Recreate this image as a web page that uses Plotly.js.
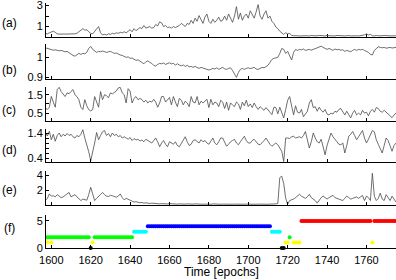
<!DOCTYPE html>
<html><head><meta charset="utf-8">
<script src="https://cdn.plot.ly/plotly-3.0.1.min.js"></script>
<style>html,body{margin:0;padding:0;background:#fff}#c{width:396px;height:280px}</style>
</head><body><div id="c"></div>
<script>
// epochs: series start at 1597, one value per epoch
var startEpoch = 1597;
var xTicks = [1600,1620,1640,1660,1680,1700,1720,1740,1760];

var seriesA = [
0.35,0.30,0.40,0.50,0.55,0.45,0.30,0.28,0.27,0.28,
0.28,0.27,0.28,0.30,0.28,0.30,0.35,0.50,0.60,0.80,
0.65,0.70,0.50,0.35,0.30,0.50,0.75,1.00,0.40,0.20,
0.25,0.20,0.30,0.25,0.35,0.30,0.40,0.35,0.45,0.40,
0.50,0.40,0.55,0.70,0.50,0.80,0.60,0.75,0.90,0.80,
1.10,0.85,0.95,1.00,0.85,0.90,1.20,1.05,1.45,1.35,
1.00,1.10,0.90,0.95,0.85,1.00,0.90,1.00,1.10,1.30,
1.10,1.00,1.30,1.20,1.60,1.30,1.80,1.50,2.05,1.60,
1.30,1.90,2.20,1.50,1.30,1.70,1.40,1.60,1.90,1.50,
1.60,2.00,1.60,2.20,1.70,1.40,2.00,2.90,1.70,2.30,
1.60,2.00,2.20,1.80,2.50,2.10,1.80,2.40,3.10,2.00,
1.70,2.20,2.50,1.80,2.00,1.50,1.30,0.95,0.80,0.55,
0.35,0.25,0.40,0.30,0.35,0.15,0.12,0.15,0.12,0.10,
0.12,0.15,0.10,0.12,0.10,0.15,0.12,0.10,0.12,0.15,
0.10,0.12,0.10,0.15,0.12,0.10,0.12,0.10,0.15,0.12,
0.10,0.12,0.10,0.12,0.15,0.10,0.12,0.10,0.12,0.10,
0.12,0.15,0.20,0.30,0.20,0.25,0.12,0.10,0.15,0.12,
0.10,0.12,0.15,0.10,0.12,0.10,0.12,0.15,0.12];

var seriesB = [
1.048,1.045,1.042,1.040,1.036,1.038,1.034,1.033,1.035,1.030,
1.028,1.030,1.022,1.015,1.010,1.006,1.012,1.020,1.015,1.020,
1.018,1.025,1.045,1.055,1.040,1.030,1.025,1.030,1.028,1.032,
1.030,1.025,1.028,1.030,1.025,1.020,1.022,1.015,1.012,1.010,
1.005,1.000,1.003,0.995,0.997,0.990,0.985,0.988,0.980,0.975,
0.968,0.978,0.983,0.975,0.970,0.960,0.957,0.965,0.970,0.968,
0.972,0.965,0.970,0.973,0.968,0.970,0.962,0.968,0.962,0.958,
0.962,0.955,0.960,0.953,0.955,0.950,0.955,0.948,0.945,0.950,
0.947,0.942,0.940,0.937,0.940,0.945,0.942,0.948,0.940,0.945,
0.950,0.943,0.940,0.945,0.948,0.935,0.915,0.900,0.925,0.940,
0.945,0.940,0.945,0.948,0.944,0.946,0.950,0.942,0.940,0.945,
0.950,0.948,0.953,0.960,0.975,0.990,0.995,0.998,1.000,1.020,
1.045,1.040,1.020,1.030,1.010,0.987,1.025,1.040,1.035,1.040,
1.038,1.042,1.035,1.038,1.040,1.036,1.040,1.045,1.048,1.050,
1.056,1.050,1.045,1.040,1.045,1.040,1.035,1.042,1.038,1.040,
1.036,1.038,1.030,1.035,1.032,1.028,1.035,1.040,1.035,1.040,
1.038,1.040,1.035,1.030,1.025,1.015,1.012,1.035,1.045,1.053,
1.050,1.048,1.050,1.046,1.048,1.050,1.047,1.050,1.050];

var seriesC = [
0.78,0.70,0.82,1.41,1.10,0.82,1.78,1.90,1.67,1.50,
1.40,1.60,1.55,1.68,1.78,1.50,1.40,1.23,0.82,0.69,
1.23,0.90,0.69,0.62,0.69,1.40,1.05,0.82,1.67,1.23,
1.50,1.45,1.33,1.60,1.55,1.63,1.70,1.87,1.90,1.60,
1.50,1.05,1.83,1.70,1.05,1.30,1.40,1.23,1.30,1.23,
1.10,1.20,1.05,1.15,1.10,1.25,1.10,0.82,1.05,1.40,
1.40,1.10,1.25,1.35,0.95,1.40,1.10,0.85,1.30,1.20,
0.95,1.15,1.05,0.85,1.40,1.10,1.05,1.40,0.95,1.15,
1.05,1.15,1.25,0.80,1.25,0.95,1.10,1.05,0.85,1.20,
1.10,0.75,1.10,0.65,1.05,0.95,0.85,1.10,1.00,0.70,
1.10,0.90,1.20,0.85,1.00,0.80,1.05,0.85,0.70,0.85,
0.75,0.65,0.80,0.70,0.55,0.42,0.82,0.80,0.46,0.82,
0.50,0.24,0.70,1.20,1.40,0.80,0.40,0.90,0.55,0.50,
0.70,0.30,0.45,0.60,1.05,1.23,0.80,0.85,0.60,0.82,
0.65,0.55,0.70,0.45,0.40,0.50,0.45,0.60,0.55,0.70,
0.75,0.55,0.40,0.60,0.45,0.24,0.50,0.65,0.40,0.50,
0.40,0.65,0.50,0.55,0.35,0.60,0.70,0.55,0.80,0.75,
0.60,0.55,0.65,0.55,0.45,0.30,0.25,0.40,0.50];

var seriesD = [
1.40,1.28,1.47,1.13,1.35,1.07,1.30,1.40,1.25,1.35,
1.28,1.38,1.30,1.35,1.25,1.20,1.30,1.25,1.35,1.53,
1.20,0.95,0.65,0.29,0.60,1.00,1.42,1.13,1.30,1.45,
1.50,1.30,1.38,1.25,1.40,1.30,1.35,1.25,1.30,1.20,
1.25,1.20,1.15,1.22,1.10,1.18,1.12,1.15,1.08,1.12,
1.05,1.15,1.10,1.05,1.00,1.10,1.20,1.05,0.85,1.00,
1.10,0.95,0.85,1.05,1.00,0.95,1.05,0.90,0.85,1.00,
1.10,1.25,1.05,0.90,0.95,1.10,1.13,1.07,1.00,1.13,
1.05,1.10,1.00,0.95,1.10,1.20,1.00,0.93,1.05,1.20,
1.20,1.00,0.87,0.95,1.05,1.10,1.15,1.00,0.93,1.05,
1.15,1.27,1.10,1.00,1.00,1.10,1.15,1.05,0.95,0.93,
1.00,1.10,1.20,1.05,0.95,0.87,0.95,1.00,0.93,0.80,
0.67,0.26,1.20,1.20,1.18,1.25,1.27,1.20,1.22,1.25,
1.20,1.30,1.46,1.10,0.80,1.05,1.40,1.20,1.05,1.00,
1.15,0.85,0.53,0.90,1.20,1.40,1.25,1.13,1.05,0.95,
0.93,1.00,0.60,0.90,1.27,1.35,1.46,1.30,1.13,1.25,
1.40,1.50,1.20,1.00,1.15,1.30,1.50,1.45,1.13,0.95,
0.80,0.60,0.90,1.20,1.10,0.85,0.67,0.90,1.00];

var seriesE = [
0.60,0.90,1.50,1.20,1.25,1.10,1.40,1.20,1.00,1.10,
1.30,1.50,1.70,1.10,1.20,1.40,1.10,0.90,0.60,0.80,
0.70,0.65,1.40,2.40,1.50,0.60,0.90,1.20,1.40,1.70,
1.40,1.20,1.15,1.30,1.25,1.10,1.05,1.20,1.50,1.00,
0.70,0.90,0.80,0.65,0.50,0.40,0.45,0.35,0.30,0.35,
0.25,0.30,0.22,0.20,0.25,0.20,0.18,0.20,0.15,0.18,
0.15,0.20,0.15,0.18,0.15,0.12,0.15,0.12,0.15,0.12,
0.15,0.12,0.15,0.12,0.10,0.12,0.15,0.12,0.10,0.12,
0.10,0.12,0.10,0.12,0.10,0.15,0.12,0.10,0.12,0.10,
0.12,0.10,0.12,0.10,0.12,0.10,0.12,0.10,0.12,0.10,
0.12,0.10,0.12,0.10,0.12,0.10,0.12,0.10,0.12,0.10,
0.12,0.10,0.12,0.10,0.12,0.10,0.15,0.15,0.20,3.70,
3.90,2.90,0.90,0.10,0.60,0.65,0.80,1.00,1.20,1.45,
1.20,1.00,0.90,1.10,1.45,1.00,0.80,0.60,0.25,0.70,
1.00,1.20,1.00,0.80,1.00,1.20,1.30,1.00,0.90,0.80,
0.70,0.60,0.90,1.20,1.00,0.80,0.90,1.00,1.10,0.90,
1.10,1.30,0.60,1.20,1.00,0.60,4.30,1.20,0.60,0.90,
1.60,0.80,0.60,1.40,1.00,0.60,1.20,0.80,0.40];

// panel (f): state level per epoch
var stateBlackX  = [1620,1717,1718];
var stateYellowX = [1598,1600,1621,1719,1720,1723,1724,1725,1726,1763];
var stateGreenX  = [1598,1599,1600,1601,1602,1603,1604,1605,1606,1607,1608,1609,1610,1611,1612,1613,1614,1615,1616,1617,1618,1619,
                    1622,1623,1624,1625,1626,1627,1628,1629,1630,1631,1632,1633,1634,1635,1636,1637,1638,1639,1640,1641,1721];
var stateCyanX   = [1642,1643,1644,1645,1646,1647,1648,1712,1713,1714,1715,1716];
var stateBlueX   = [1649,1650,1651,1652,1653,1654,1655,1656,1657,1658,1659,1660,1661,1662,1663,1664,1665,1666,1667,1668,1669,1670,
                    1671,1672,1673,1674,1675,1676,1677,1678,1679,1680,1681,1682,1683,1684,1685,1686,1687,1688,1689,1690,1691,1692,
                    1693,1694,1695,1696,1697,1698,1699,1700,1701,1702,1703,1704,1705,1706,1707,1708,1709,1710,1711];
var stateRedX    = [1727,1728,1729,1730,1731,1732,1733,1734,1735,1736,1737,1738,1739,1740,1741,1742,1743,1744,1745,1746,1747,1748,
                    1749,1750,1751,1752,1753,1754,1755,1756,1757,1758,1759,1760,1761,1762,1764,1765,1766,1767,1768,1769,1770,1771,
                    1772,1773,1774,1775];
var stateLevels = {black:0, yellow:1, green:2, cyan:3, blue:4, red:5};

var panelLabels = ['(a)','(b)','(c)','(d)','(e)','(f)'];
var xTitle = 'Time [epochs]';

function epochs(arr){ return arr.map(function(_,i){ return startEpoch + i; }); }
function lineTrace(vals, k){
  return {x: epochs(vals), y: vals, type:'scatter', mode:'lines',
          xaxis: k===1?'x':'x'+k, yaxis: k===1?'y':'y'+k,
          line:{color:'#4a4a4a', width:0.8}, hoverinfo:'skip'};
}
function stateTrace(xs, level, color){
  return {x: xs, y: xs.map(function(){return level;}), type:'scatter', mode:'markers', cliponaxis:false,
          xaxis:'x6', yaxis:'y6', marker:{color:color, size:4, symbol:'circle', line:{width:0}}, hoverinfo:'skip'};
}

var data = [
  lineTrace(seriesA,1), lineTrace(seriesB,2), lineTrace(seriesC,3),
  lineTrace(seriesD,4), lineTrace(seriesE,5),
  stateTrace(stateBlackX, stateLevels.black, '#000000'),
  stateTrace(stateYellowX, stateLevels.yellow, '#ffff00'),
  stateTrace(stateGreenX, stateLevels.green, '#00ff00'),
  stateTrace(stateCyanX, stateLevels.cyan, '#00ffff'),
  stateTrace(stateBlueX, stateLevels.blue, '#0000ff'),
  stateTrace(stateRedX, stateLevels.red, '#ff0000')
];

// pixel layout: plot area y from 3 to 248 (height 245)
var TOP = 3, BOT = 248, H = BOT - TOP;
function dom(top, bottom){ return [(BOT-bottom)/H, (BOT-top)/H]; }
var panels = [
  {dom:dom(3,37),   range:[0,3.25],       tv:[1,2,3],       tt:['1','','3']},
  {dom:dom(44,79),  range:[0.892,1.067],  tv:[0.9,1],       tt:['0.9','1']},
  {dom:dom(87,121), range:[0.07,1.92],    tv:[0.5,1,1.5],   tt:['0.5','','1.5']},
  {dom:dom(129,162),range:[0.24,1.56],    tv:[0.4,0.6,0.8,1.0,1.2,1.4], tt:['0.4','','','','','1.4']},
  {dom:dom(171,205),range:[0,4.6],        tv:[2,4],         tt:['2','4']},
  {dom:dom(215,248),range:[0,6.1],        tv:[0,5],         tt:['0','5']}
];
var labelY = [23,70,110,150,190,228];

var layout = {
  width:396, height:280,
  margin:{l:46, r:0, t:TOP, b:280-BOT},
  paper_bgcolor:'#fff', plot_bgcolor:'#fff',
  showlegend:false,
  font:{family:'Liberation Sans, Arial, sans-serif', size:11, color:'#000'},
  annotations: []
};
for (var k=1;k<=6;k++){
  var p = panels[k-1];
  var xa = {domain:[0,1], range:[1597.3,1775], anchor: k===1?'y':'y'+k,
    showline:true, linecolor:'#000', linewidth:1, ticks:'inside', ticklen:3, tickcolor:'#000', tickwidth:1,
    tickvals:xTicks, showticklabels:(k===6), showgrid:false, zeroline:false,
    tickfont:{size:11, color:'#000'}, layer: (k===1?'below traces':'above traces')};
  if (k===6){ xa.ticklabelstandoff = 2; }
  var ya = {domain:p.dom, range:p.range, anchor: k===1?'x':'x'+k,
    showline:true, linecolor:'#000', linewidth:1, ticks:'inside', ticklen:3, tickcolor:'#000', tickwidth:1,
    tickvals:p.tv, ticktext:p.tt, showgrid:false, zeroline:false, ticklabeloverflow:'allow',
    tickfont:{size:11, color:'#000'}};
  layout[k===1?'xaxis':'xaxis'+k] = xa;
  layout[k===1?'yaxis':'yaxis'+k] = ya;
  layout.annotations.push({text:panelLabels[k-1], xref:'paper', yref:'paper',
    x:(9-46)/350, y:(BOT-labelY[k-1])/H, xanchor:'center', yanchor:'middle',
    showarrow:false, font:{size:12, color:'#000'}});
}
// x-axis title, placed under the bottom panel's tick labels
layout.annotations.push({text:xTitle, xref:'paper', yref:'paper',
  x:0.5, y:(BOT-272)/H, xanchor:'center', yanchor:'middle',
  showarrow:false, font:{size:12, color:'#000'}});

Plotly.newPlot('c', data, layout, {staticPlot:true, displayModeBar:false});
</script>
</body></html>
